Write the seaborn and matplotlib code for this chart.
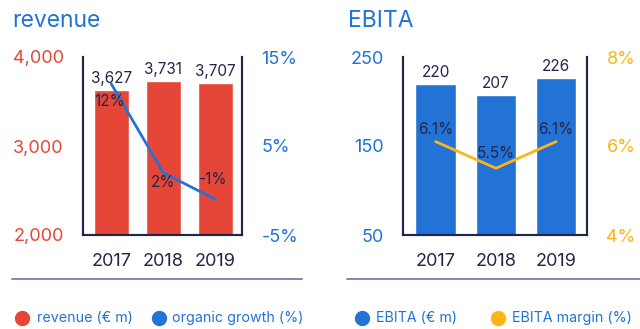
import matplotlib
matplotlib.use("Agg")
import matplotlib.pyplot as plt
from matplotlib.lines import Line2D
import seaborn as sns

sns.set_theme(style="white")
plt.rcParams["font.family"] = ["Inter", "DejaVu Sans"]

# Data
years = ["2017", "2018", "2019"]
revenue = [3627, 3731, 3707]          # € m
organic_growth = [12, 2, -1]          # %
ebita = [220, 207, 226]               # € m
ebita_margin = [6.1, 5.5, 6.1]        # %

RED = "#e64637"
BLUE = "#2373d6"
YELLOW = "#fdb515"
NAVY = "#22264a"
RULE = "#7b7f9a"

W, H = 640, 329
fig = plt.figure(figsize=(W / 100, H / 100), dpi=100)


def px_axes(x0, x1, y0, y1):
    return fig.add_axes([x0 / W, 1 - y1 / H, (x1 - x0) / W, (y1 - y0) / H])


def style_axes(ax, ax2, lcolor, rcolor):
    for a in (ax, ax2):
        a.spines["top"].set_visible(False)
        for s in ("left", "right", "bottom"):
            a.spines[s].set_color(NAVY)
            a.spines[s].set_linewidth(1.5)
        a.set_xlabel("")
        a.set_ylabel("")
    ax.tick_params(axis="y", length=0, pad=14, labelsize=13, labelcolor=lcolor)
    ax.tick_params(axis="x", length=0, pad=13, labelsize=13, labelcolor=NAVY)
    ax2.tick_params(axis="y", length=0, pad=14, labelsize=13, labelcolor=rcolor)


def panel(x0, x1, values, pct, bar_color, line_color, ylim, yticks, ylabels,
          y2lim, y2ticks, y2labels, pct_fmt, pct_offsets, bar_fmt):
    ax = px_axes(x0, x1, 57, 235)
    sns.barplot(x=years, y=values, color=bar_color, width=0.67, ax=ax,
                saturation=1)
    ax.set_ylim(*ylim)
    ax.set_xlim(-0.54, 2.51)
    ax.set_yticks(yticks)
    ax.set_yticklabels(ylabels)
    ax.bar_label(ax.containers[0], labels=[bar_fmt(v) for v in values],
                 padding=3, fontsize=11, color=NAVY)
    ax2 = ax.twinx()
    xs = list(range(len(years)))
    sns.lineplot(x=xs, y=pct, color=line_color, linewidth=2, ax=ax2)
    ax2.set_ylim(*y2lim)
    ax2.set_yticks(y2ticks)
    ax2.set_yticklabels(y2labels)
    ax2.set_xlim(-0.54, 2.51)
    for xi, p, off in zip(xs, pct, pct_offsets):
        ax2.annotate(pct_fmt(p), (xi, p), xytext=off, textcoords="offset pixels",
                     ha="center", va="center", fontsize=11, color=NAVY)
    style_axes(ax, ax2, bar_color, line_color)
    ax.grid(False)
    ax2.grid(False)
    return ax, ax2


panel(83, 242, revenue, organic_growth, RED, BLUE,
      (2000, 4000), [2000, 3000, 4000], ["2,000", "3,000", "4,000"],
      (-5, 15), [-5, 5, 15], ["-5%", "5%", "15%"],
      lambda p: f"{p}%", [(-2, -18), (0, -10), (-2, 20)],
      lambda v: f"{v:,}")

panel(403, 587, ebita, ebita_margin, BLUE, YELLOW,
      (50, 250), [50, 150, 250], ["50", "150", "250"],
      (4, 8), [4, 6, 8], ["4%", "6%", "8%"],
      lambda p: f"{p}%", [(0, 12), (0, 15), (0, 12)],
      lambda v: f"{v}")

# Titles
fig.text(12 / W, 1 - 27 / H, "revenue", fontsize=16.5, color=BLUE, va="baseline")
fig.text(348 / W, 1 - 27 / H, "EBITA", fontsize=16.5, color=BLUE, va="baseline")

# Separator rules
for xa, xb in ((12, 302), (347, 640)):
    fig.add_artist(Line2D([xa / W, xb / W], [1 - 279 / H, 1 - 279 / H],
                          color=RULE, linewidth=1.3))

# Legends
def legend_item(cx, tx, color, text):
    fig.add_artist(Line2D([cx / W], [1 - 318 / H], marker="o", markersize=10,
                          color=color, linestyle="none"))
    fig.text(tx / W, 1 - 318 / H, text, fontsize=10.3, color=BLUE,
             va="center", ha="left")

legend_item(22, 37, RED, "revenue (€ m)")
legend_item(159, 172, BLUE, "organic growth (%)")
legend_item(362, 376, BLUE, "EBITA (€ m)")
legend_item(498, 512, YELLOW, "EBITA margin (%)")

fig.savefig("out.png", dpi=100)
